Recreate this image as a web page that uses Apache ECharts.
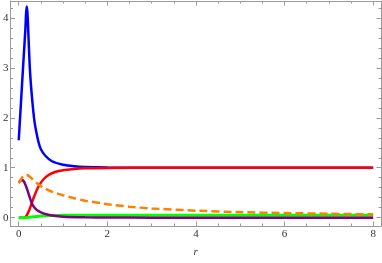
<!DOCTYPE html>
<html><head><meta charset="utf-8">
<script src="https://cdn.jsdelivr.net/npm/echarts@6/dist/echarts.min.js"></script>
<style>html,body{margin:0;padding:0;background:#fff}#c{width:382px;height:263px}</style>
</head><body><div id="c"></div>
<script>
// ---- data ----
var blueR   = [0, 0.05, 0.1, 0.15, 0.165, 0.18, 0.195, 0.21, 0.23, 0.25, 0.27, 0.3, 0.33, 0.36, 0.4, 0.45, 0.5, 0.6, 0.75, 1, 1.25, 1.5, 2, 3, 4, 6, 8];
var blueY   = [1.55, 2.3, 3.05, 3.78, 4.08, 4.23, 4.12, 3.85, 3.4, 3.0, 2.72, 2.4, 2.12, 1.9, 1.7, 1.5, 1.37, 1.24, 1.13, 1.06, 1.03, 1.015, 1.005, 1.0, 1.0, 1.0, 1.0];
var redR    = [0, 0.12, 0.16, 0.2, 0.25, 0.3, 0.35, 0.4, 0.47, 0.55, 0.65, 0.75, 0.9, 1, 1.25, 1.5, 2, 3, 4, 6, 8];
var redY    = [0, 0, 0.02, 0.08, 0.18, 0.31, 0.43, 0.54, 0.66, 0.76, 0.84, 0.89, 0.935, 0.95, 0.975, 0.988, 0.996, 1.0, 1.0, 1.0, 1.0];
var purpleR = [0, 0.04, 0.08, 0.12, 0.16, 0.2, 0.25, 0.3, 0.35, 0.4, 0.45, 0.5, 0.6, 0.75, 1, 1.5, 2, 3, 4, 6, 8];
var purpleY = [0.70, 0.74, 0.755, 0.72, 0.64, 0.54, 0.40, 0.28, 0.21, 0.16, 0.13, 0.105, 0.072, 0.045, 0.02, 0.008, 0.004, 0.0, 0.0, 0.0, 0.0];
var greenR  = [0, 0.1, 0.2, 0.3, 0.4, 0.5, 0.6, 0.75, 1, 2, 4, 6, 8];
var greenY  = [0, 0, 0.005, 0.015, 0.025, 0.033, 0.038, 0.043, 0.046, 0.048, 0.05, 0.05, 0.05];
var orangeR = [0, 0.05, 0.1, 0.15, 0.2, 0.25, 0.3, 0.4, 0.5, 0.6, 0.75, 1, 1.25, 1.5, 2, 2.5, 3, 4, 5, 6, 7, 8];
var orangeY = [0.69, 0.77, 0.83, 0.855, 0.85, 0.82, 0.78, 0.70, 0.63, 0.58, 0.52, 0.45, 0.39, 0.34, 0.27, 0.22, 0.185, 0.14, 0.11, 0.093, 0.078, 0.066];

var xMajor = [0, 2, 4, 6, 8];
var xMinor = [0.5, 1, 1.5, 2.5, 3, 3.5, 4.5, 5, 5.5, 6.5, 7, 7.5];
var yMajor = [0, 1, 2, 3, 4];
var yMinor = [0.2, 0.4, 0.6, 0.8, 1.2, 1.4, 1.6, 1.8, 2.2, 2.4, 2.6, 2.8, 3.2, 3.4, 3.6, 3.8, 4.2];
var xName = 'r';

// ---- chart ----
function pairs(xs, ys){ return xs.map(function(x,i){ return [x, ys[i]]; }); }
var XMIN = -0.186, XMAX = 8.177, YMIN = -0.167, YMAX = 4.34;
var frameColor = '#9a9a9a';
var labelStyle = {fontFamily: 'Liberation Serif', fontSize: 11, color: '#333'};

function xAx(pos, vals, len, showLabel, showLine, name){
  var a = {
    type: 'value', gridIndex: 0, position: pos, min: XMIN, max: XMAX,
    axisLine: {show: showLine, onZero: false, lineStyle: {color: frameColor, width: 1}},
    axisTick: {show: true, inside: true, length: len, customValues: vals, lineStyle: {color: frameColor, width: 1}},
    axisLabel: showLabel ? Object.assign({show: true, margin: 3, customValues: vals}, labelStyle) : {show: false},
    splitLine: {show: false}
  };
  if (name) {
    a.name = name; a.nameLocation = 'middle'; a.nameGap = 21;
    a.nameTextStyle = {fontFamily: 'Liberation Serif', fontStyle: 'italic', fontSize: 11, color: '#333'};
  }
  return a;
}
function yAx(pos, vals, len, showLabel, showLine){
  return {
    type: 'value', gridIndex: 0, position: pos, min: YMIN, max: YMAX,
    axisLine: {show: showLine, onZero: false, lineStyle: {color: frameColor, width: 1}},
    axisTick: {show: true, inside: true, length: len, customValues: vals, lineStyle: {color: frameColor, width: 1}},
    axisLabel: showLabel ? Object.assign({show: true, margin: 2, customValues: vals}, labelStyle) : {show: false},
    splitLine: {show: false}
  };
}

function line(xs, ys, color, width, dashed){
  return {
    type: 'line', xAxisIndex: 0, yAxisIndex: 0, data: pairs(xs, ys),
    showSymbol: false, smooth: 0.25, clip: true,
    lineStyle: {color: color, width: width, type: dashed ? [8, 4] : 'solid', cap: 'butt'}
  };
}

var chart = echarts.init(document.getElementById('c'), null, {renderer: 'canvas'});
chart.setOption({
  animation: false,
  backgroundColor: '#fff',
  grid: {left: 8, right: 1, top: 1, bottom: 33, containLabel: false},
  xAxis: [
    xAx('bottom', xMajor, 4.5, true, true, xName),
    xAx('bottom', xMinor, 2.5, false, false),
    xAx('top', xMajor, 4.5, false, true),
    xAx('top', xMinor, 2.5, false, false)
  ],
  yAxis: [
    yAx('left', yMajor, 4.5, true, true),
    yAx('left', yMinor, 2.5, false, false),
    yAx('right', yMajor, 4.5, false, true),
    yAx('right', yMinor, 2.5, false, false)
  ],
  series: [
    line(blueR, blueY, '#0000ff', 2.5),
    line(redR, redY, '#ff0000', 2.5),
    line(greenR, greenY, '#00ff00', 3),
    line(purpleR, purpleY, '#800080', 2.5),
    line(orangeR, orangeY, '#ff8000', 2.5, true)
  ]
});
</script></body></html>
